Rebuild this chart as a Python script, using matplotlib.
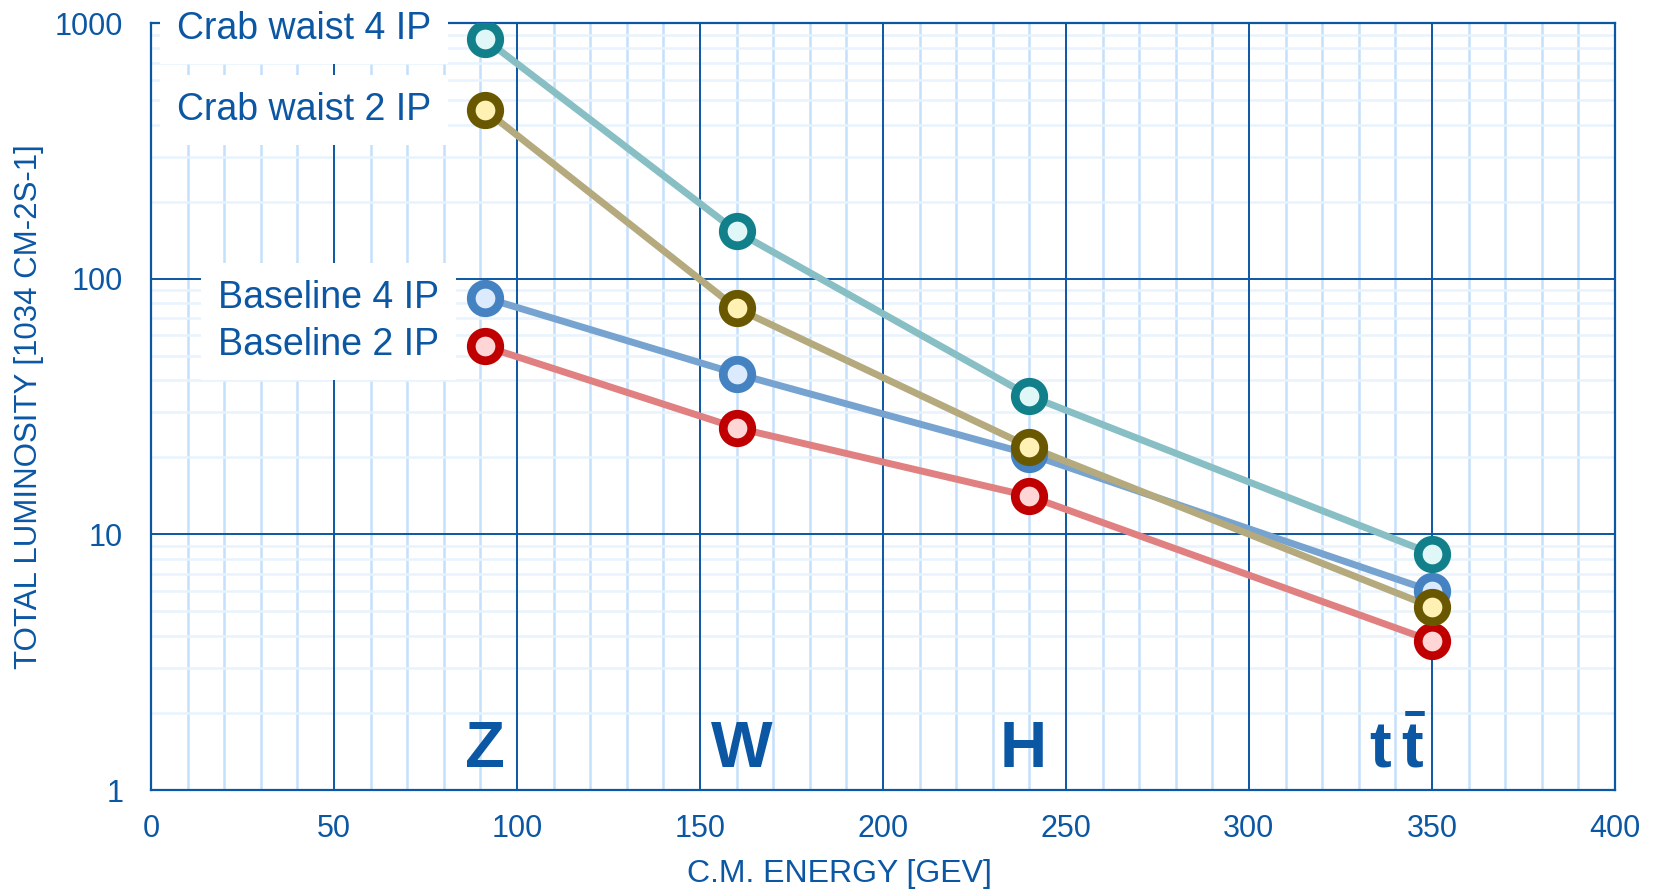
import matplotlib
matplotlib.use("Agg")
import matplotlib.pyplot as plt
from matplotlib.ticker import FixedLocator, NullFormatter

plt.rcParams['font.family'] = ['Liberation Sans', 'DejaVu Sans']
plt.rcParams['mathtext.fontset'] = 'custom'
plt.rcParams['mathtext.rm'] = 'Liberation Sans'
plt.rcParams['mathtext.bf'] = 'Liberation Sans:bold'

# data
energy = [91.2, 160, 240, 350]
crab4 = [867, 153, 34.8, 8.4]
crab2 = [458, 76.6, 22.0, 5.2]
base4 = [84.3, 42.5, 20.6, 6.0]
base2 = [54.4, 26.1, 14.1, 3.83]
labels = ['Crab waist 4 IP', 'Crab waist 2 IP', 'Baseline 4 IP', 'Baseline 2 IP']
label_y = [950, 458, 84, 55]
label_x = [76.5, 76.5, 78.8, 78.8]
peaks = ['Z', 'W', 'H', r'$\mathbf{t\,\bar{t}}$']
peak_x = [91.3, 161.5, 238.3, 340.5]
x_major = list(range(0, 401, 50))
x_minor = [v for v in range(0, 401, 10) if v % 50]
y_major = [1, 10, 100, 1000]
y_minor = [m * 10**d for d in range(3) for m in range(2, 10)]

BLUE = '#0b57a4'
series = [
    # values, line colour, edge colour, face colour
    (base4, '#77a3d0', '#4482c2', '#dbeafd'),
    (base2, '#e08080', '#c00000', '#ffd5d5'),
    (crab4, '#87bfc4', '#12808a', '#e0f7f8'),
    (crab2, '#b4aa7d', '#6a5800', '#fff0b3'),
]

fig = plt.figure(figsize=(16.55, 8.92), dpi=100)
ax = fig.add_axes([0.0912, 0.1143, 0.8846, 0.8599])
ax.set_yscale('log')
ax.set_xlim(0, 400); ax.set_ylim(1, 1000)

ax.xaxis.set_major_locator(FixedLocator(x_major))
ax.xaxis.set_minor_locator(FixedLocator(x_minor))
ax.yaxis.set_major_locator(FixedLocator(y_major))
ax.yaxis.set_minor_locator(FixedLocator(y_minor))
ax.yaxis.set_minor_formatter(NullFormatter())
ax.set_yticklabels([str(v) for v in y_major])

# light minor grid under, dark major lines on top
ax.set_axisbelow(True)
ax.grid(which='minor', axis='x', color='#c4e0fa', lw=1.8)
ax.grid(which='minor', axis='y', color='#e8f3fd', lw=1.8)
for v in x_major:
    ax.axvline(v, color=BLUE, lw=1.4, zorder=1)
for v in y_major:
    ax.axhline(v, color=BLUE, lw=1.4, zorder=1)

ax.tick_params(which='both', length=0, colors=BLUE, labelsize=22)
ax.tick_params(axis='x', pad=17)
ax.tick_params(axis='y', pad=20)
for s in ax.spines.values():
    s.set_color(BLUE); s.set_linewidth(1.6)

for vals, lc, ec, fc in series:
    ax.plot(energy, vals, color=lc, lw=5, zorder=3, solid_capstyle='round')
for vals, lc, ec, fc in series:
    ax.plot(energy, vals, 'o', ms=20.5, mew=6.3, mec=ec, mfc=fc, zorder=4)

for lab, lx, ly in zip(labels, label_x, label_y):
    ax.text(lx, ly, lab, ha='right', va='center', fontsize=27, color=BLUE, zorder=5,
            clip_on=False, bbox=dict(boxstyle='square,pad=0.45', fc='white', ec='none'))

for p, px in zip(peaks, peak_x):
    ax.text(px, 1.23, p, ha='center', va='baseline', fontsize=47, fontweight='bold',
            color=BLUE, zorder=5)

ax.set_xlabel('C.M. ENERGY [GEV]', fontsize=23, color=BLUE, va='center')
ax.xaxis.set_label_coords(0.47, -0.109)
ax.set_ylabel('TOTAL LUMINOSITY [1034 CM-2S-1]', fontsize=22.5, color=BLUE, va='center')
ax.yaxis.set_label_coords(-0.0835, 0.5)

fig.savefig('out.png', dpi=100)
